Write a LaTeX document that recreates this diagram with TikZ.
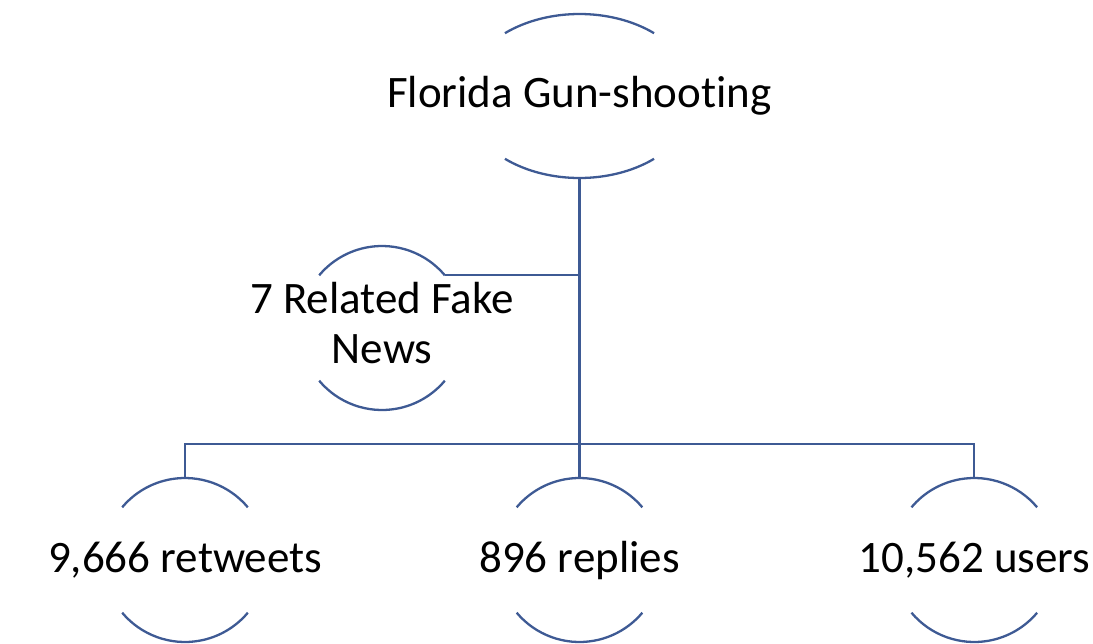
\documentclass[tikz,border=0pt]{standalone}
\usepackage{fontspec}
\setmainfont[Ligatures=NoCommon]{Carlito}
\usetikzlibrary{shapes.geometric}
\definecolor{lineblue}{HTML}{3E5A94}
\tikzset{
  ln/.style={draw=lineblue, line width=2.3pt},
  bub/.style={circle, minimum size=164pt, inner sep=0pt, font=\fontsize{45}{53}\selectfont, text=black},
  topbub/.style={ellipse, minimum width=232pt, minimum height=164pt, inner sep=0pt, font=\fontsize{45}{53}\selectfont, text=black},
}
\newcommand\halfarcs[4]{%
  \draw[ln] ([shift={(#4:#2pt and #3pt)}]#1.center) arc[start angle=#4, end angle=180-#4, x radius=#2pt, y radius=#3pt];
  \draw[ln] ([shift={(180+#4:#2pt and #3pt)}]#1.center) arc[start angle=180+#4, end angle=360-#4, x radius=#2pt, y radius=#3pt];}
\newcommand\lbl[1]{\makebox[0pt]{\raisebox{-2pt}{#1}}}
\begin{document}
\begin{tikzpicture}[x=1pt,y=1pt]
\useasboundingbox (0,0) rectangle (1093,-643);
\node[topbub] (top) at (579.5,-96) {\lbl{Florida Gun-shooting}};
\node[bub] (fake) at (382,-328) {\lbl{\begin{tabular}{@{}c@{}}7 Related Fake\\[-3pt]News\end{tabular}}};
\node[bub] (rt) at (185,-560) {\lbl{9,666 retweets}};
\node[bub] (rp) at (579.5,-560) {\lbl{896 replies}};
\node[bub] (us) at (974.3,-560) {\lbl{10,562 users}};
\coordinate (bar) at (0,-444);
\halfarcs{top}{116}{82}{50}
\halfarcs{fake}{82}{82}{40}
\halfarcs{rt}{82}{82}{40}
\halfarcs{rp}{82}{82}{40}
\halfarcs{us}{82}{82}{40}
\draw[ln] (top.south) -- (rp.north);
\draw[ln] (fake.40) -- (fake.40 -| top.south);
\draw[ln] (rt.north) -- (rt.north |- bar) -- (us.north |- bar) -- (us.north);
\end{tikzpicture}
\end{document}
